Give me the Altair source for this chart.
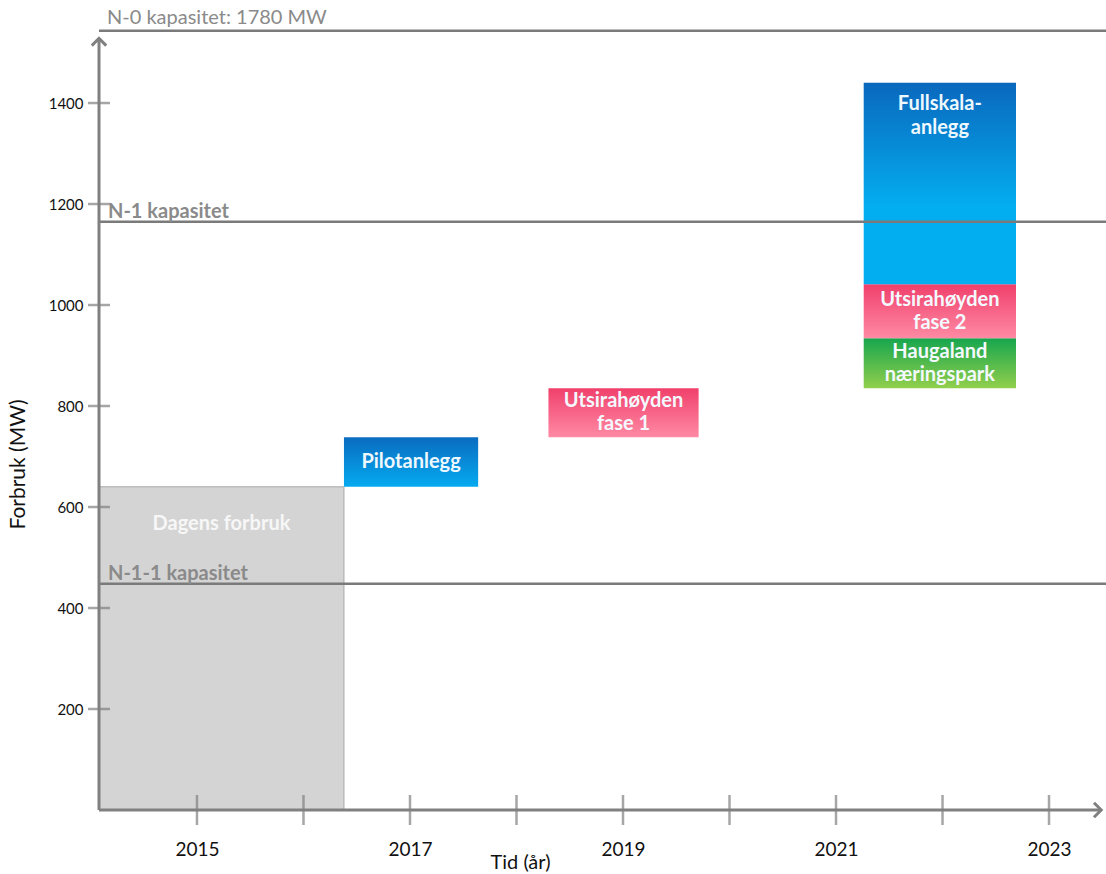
import altair as alt
import pandas as pd

# ---- data ----
bar_names = ["Dagens forbruk", "Pilotanlegg", "Utsirahøyden\nfase 1",
             "Haugaland\nnæringspark", "Utsirahøyden\nfase 2", "Fullskala-\nanlegg"]
bar_start = [2014.08, 2016.38, 2018.30, 2021.26, 2021.26, 2021.26]
bar_end = [2016.38, 2017.64, 2019.71, 2022.69, 2022.69, 2022.69]
bar_low = [0, 640, 738, 835, 934, 1041]
bar_high = [640, 738, 835, 934, 1041, 1440]

cap_names = ["N-0 kapasitet: 1780 MW", "N-1 kapasitet", "N-1-1 kapasitet"]
cap_values = [1543, 1165, 448]

x_label_years = [2015, 2017, 2019, 2021, 2023]
x_tick_years = [2015, 2016, 2017, 2018, 2019, 2020, 2021, 2022, 2023]
y_tick_values = [200, 400, 600, 800, 1000, 1200, 1400]

X_MIN, X_MAX = 2014.08, 2023.535
X_ARROW = 2023.49
Y_MAX = 1604
Y_ARROW = 1528

FONT = "Lato"
AXIS_GRAY = "#808080"

bars = pd.DataFrame({"name": bar_names, "x0": bar_start, "x1": bar_end,
                     "y0": bar_low, "y1": bar_high})
caps = pd.DataFrame({"name": cap_names, "v": cap_values, "x0": X_MIN, "x1": X_MAX})

xs = alt.Scale(domain=[X_MIN, X_MAX], nice=False, zero=False)
ys = alt.Scale(domain=[0, Y_MAX], nice=False, zero=False)


def grad(top, bottom, mid=None):
    stops = [alt.GradientStop(color=top, offset=0)]
    if mid is not None:
        stops.append(alt.GradientStop(color=bottom, offset=mid))
    stops.append(alt.GradientStop(color=bottom, offset=1))
    return alt.Gradient(gradient="linear", stops=stops, x1=0, x2=0, y1=0, y2=1)


fills = {
    "Dagens forbruk": None,
    "Pilotanlegg": grad("#0a6cc0", "#05aaf0"),
    "Utsirahøyden\nfase 1": grad("#f0406c", "#ff8aa3"),
    "Haugaland\nnæringspark": grad("#16a64e", "#92cf4c"),
    "Utsirahøyden\nfase 2": grad("#f0406c", "#ff8aa3"),
    "Fullskala-\nanlegg": grad("#0a68bd", "#03aef0", 0.62),
}

base = alt.Chart(bars)

x_axis = alt.Axis(values=x_label_years, format="d", domain=False, ticks=False, grid=False,
                  labelFontSize=19, labelFont=FONT, labelColor="#111111", labelPadding=30,
                  labelFlush=False, title="Tid (år)", titleFont=FONT, titleFontSize=20,
                  titleFontWeight="normal", titleColor="#111111", titleX=421, titleY=52,
                  titleAnchor="start", titleAlign="center", titleBaseline="middle")
y_axis = alt.Axis(values=y_tick_values, format="d", domain=False, ticks=False, grid=False,
                  labelFontSize=15, labelFont=FONT, labelColor="#111111", labelPadding=16,
                  title="Forbruk (MW)", titleFont=FONT, titleFontSize=21,
                  titleFontWeight="normal", titleColor="#111111", titleX=-81, titleY=464,
                  titleAngle=-90, titleAlign="center", titleBaseline="middle")

layers = []
# gray bar with axes
layers.append(
    base.transform_filter(alt.datum.name == "Dagens forbruk")
    .mark_rect(color="#d4d4d4", stroke="#a8a8a8", strokeWidth=1)
    .encode(x=alt.X("x0:Q", scale=xs, axis=x_axis), x2="x1:Q",
            y=alt.Y("y0:Q", scale=ys, axis=y_axis), y2="y1:Q")
)
for nm, fill in fills.items():
    if fill is None:
        continue
    layers.append(
        base.transform_filter(alt.datum.name == nm)
        .mark_rect(color=fill)
        .encode(x=alt.X("x0:Q", scale=xs), x2="x1:Q",
                y=alt.Y("y0:Q", scale=ys), y2="y1:Q")
    )

# capacity lines and labels
cap = alt.Chart(caps)
layers.append(
    cap.mark_rule(color="#7a7a7a", strokeWidth=2.5)
    .encode(x=alt.X("x0:Q", scale=xs), x2="x1:Q", y=alt.Y("v:Q", scale=ys))
)
layers.append(
    cap.transform_filter(alt.datum.name == cap_names[0])
    .mark_text(align="left", baseline="alphabetic", dx=8, dy=-7, font=FONT, fontSize=20,
               color="#8a8a8a")
    .encode(x=alt.X("x0:Q", scale=xs), y=alt.Y("v:Q", scale=ys), text="name:N")
)
layers.append(
    cap.transform_filter(alt.datum.name != cap_names[0])
    .mark_text(align="left", baseline="alphabetic", dx=9, dy=-4, font=FONT, fontSize=20,
               fontWeight="bold", color="#8a8a8a")
    .encode(x=alt.X("x0:Q", scale=xs), y=alt.Y("v:Q", scale=ys), text="name:N")
)

# axis lines, ticks, arrowheads
axes_df = pd.DataFrame({"xa": [X_MIN, X_MIN], "xb": [X_ARROW, X_MIN],
                        "ya": [0, 0], "yb": [0, Y_ARROW]})
layers.append(
    alt.Chart(axes_df).mark_rule(color=AXIS_GRAY, strokeWidth=3)
    .encode(x=alt.X("xa:Q", scale=xs), x2="xb:Q", y=alt.Y("ya:Q", scale=ys), y2="yb:Q")
)
layers.append(
    alt.Chart(pd.DataFrame({"t": x_tick_years, "z": 0}))
    .mark_tick(orient="vertical", size=30, thickness=2.5, color=AXIS_GRAY)
    .encode(x=alt.X("t:Q", scale=xs), y=alt.Y("z:Q", scale=ys))
)
layers.append(
    alt.Chart(pd.DataFrame({"t": y_tick_values, "z": X_MIN}))
    .mark_tick(orient="horizontal", size=22, thickness=2.5, color=AXIS_GRAY)
    .encode(x=alt.X("z:Q", scale=xs), y=alt.Y("t:Q", scale=ys))
)
layers.append(
    alt.Chart(pd.DataFrame({"px": [X_MIN], "py": [Y_ARROW]}))
    .mark_point(shape="M -1 1 L 0 0 L 1 1", size=210, filled=False, strokeWidth=3,
                color=AXIS_GRAY, opacity=1)
    .encode(x=alt.X("px:Q", scale=xs), y=alt.Y("py:Q", scale=ys))
)
layers.append(
    alt.Chart(pd.DataFrame({"px": [X_ARROW], "py": [0]}))
    .mark_point(shape="M -1 -1 L 0 0 L -1 1", size=210, filled=False, strokeWidth=3,
                color=AXIS_GRAY, opacity=1)
    .encode(x=alt.X("px:Q", scale=xs), y=alt.Y("py:Q", scale=ys))
)

# bar labels
lab = base.transform_calculate(xm="(datum.x0 + datum.x1) / 2", ym="(datum.y0 + datum.y1) / 2")
single = ["Pilotanlegg"]
double = ["Utsirahøyden\nfase 1", "Haugaland\nnæringspark", "Utsirahøyden\nfase 2"]
layers.append(
    lab.transform_filter(alt.FieldOneOfPredicate(field="name", oneOf=single))
    .mark_text(align="center", baseline="middle",
               font=FONT, fontSize=20, fontWeight="bold", color="#eef8ff")
    .encode(x=alt.X("xm:Q", scale=xs), y=alt.Y("ym:Q", scale=ys), text="name:N")
)
layers.append(
    lab.transform_filter(alt.FieldOneOfPredicate(field="name", oneOf=double))
    .mark_text(align="center", baseline="middle", dy=-11.5, lineBreak="\n", lineHeight=23,
               font=FONT, fontSize=20, fontWeight="bold", color="#f4f9ff")
    .encode(x=alt.X("xm:Q", scale=xs), y=alt.Y("ym:Q", scale=ys), text="name:N")
)
layers.append(
    lab.transform_filter(alt.datum.name == "Fullskala-\nanlegg")
    .mark_text(align="center", baseline="top", dy=11, lineBreak="\n", lineHeight=24,
               font=FONT, fontSize=20, fontWeight="bold", color="#eef8ff")
    .encode(x=alt.X("xm:Q", scale=xs), y=alt.Y("y1:Q", scale=ys), text="name:N")
)
layers.append(
    lab.transform_filter(alt.datum.name == "Dagens forbruk")
    .mark_text(align="center", baseline="middle", dy=37,
               font=FONT, fontSize=20, fontWeight="bold", color="#f7f7f7")
    .encode(x=alt.X("xm:Q", scale=xs), y=alt.Y("y1:Q", scale=ys), text="name:N")
)

chart = (
    alt.layer(*layers)
    .properties(width=1007, height=810,
                autosize=alt.AutoSizeParams(type="none"),
                padding={"left": 99, "top": 0, "right": 0, "bottom": 64},
                background="white")
    .configure_view(stroke=None)
)

chart.save("out.html", embed_options={"renderer": "svg", "actions": False})
